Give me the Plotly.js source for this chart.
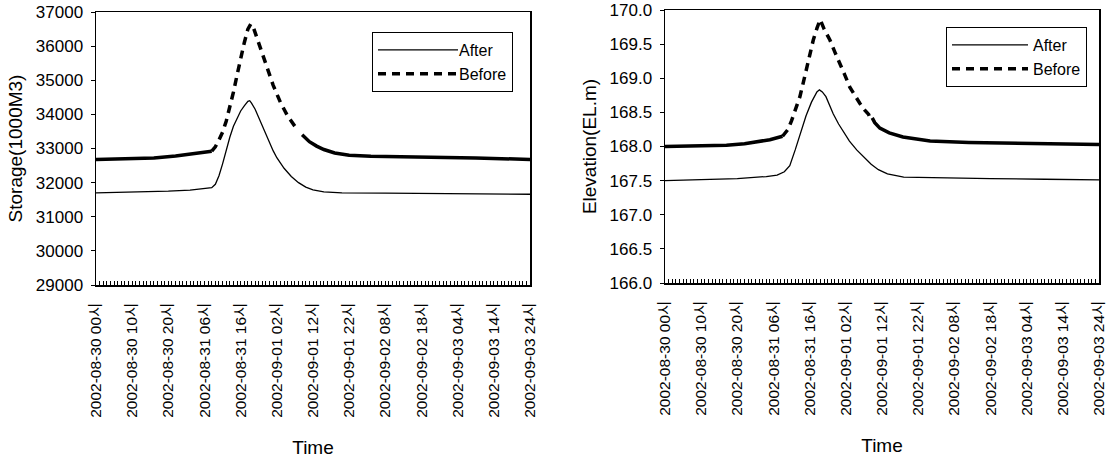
<!DOCTYPE html>
<html><head><meta charset="utf-8">
<script src="https://cdn.plot.ly/plotly-3.0.1.min.js"></script>
<style>body{margin:0;background:#fff}#chart{width:1114px;height:460px}</style>
</head><body><div id="chart"></div>
<script>
// Tick positions (hours since 2002-08-30 00시) and labels
const tickHours = [0, 10, 20, 30, 40, 50, 60, 70, 80, 90, 100, 110, 120];
const tickLabels = ["2002-08-30 00시", "2002-08-30 10시", "2002-08-30 20시", "2002-08-31 06시",
  "2002-08-31 16시", "2002-09-01 02시", "2002-09-01 12시", "2002-09-01 22시", "2002-09-02 08시",
  "2002-09-02 18시", "2002-09-03 04시", "2002-09-03 14시", "2002-09-03 24시"];

// Storage (1000 m3)
const storageAfterHours = [0, 10, 20, 26, 30, 32, 33, 34, 35, 36, 37, 38, 39, 40, 41, 42, 42.5, 43, 44, 45, 46, 47, 48, 49, 50, 52, 54, 56, 58, 60, 63, 68, 80, 95, 110, 120];
const storageAfter = [31700, 31720, 31750, 31780, 31820, 31850, 31950, 32200, 32550, 32950, 33330, 33650, 33900, 34100, 34250, 34380, 34400, 34330, 34150, 33900, 33650, 33400, 33150, 32930, 32730, 32420, 32180, 32000, 31870, 31790, 31730, 31700, 31690, 31680, 31670, 31660];
const storageBeforeHours = [0, 8, 16, 22, 26, 30, 32, 33, 34, 35, 36, 37, 38, 39, 40, 41, 42, 42.8, 43.5, 45, 47, 49, 51, 53, 55, 57, 59, 61, 63, 66, 70, 76, 85, 95, 105, 120];
const storageBefore = [32680, 32700, 32720, 32780, 32830, 32880, 32920, 33050, 33250, 33480, 33800, 34200, 34650, 35150, 35650, 36100, 36500, 36650, 36550, 36100, 35450, 34850, 34350, 33950, 33650, 33400, 33200, 33070, 32970, 32870, 32800, 32770, 32760, 32740, 32720, 32680];

// Elevation (EL.m)
const elevAfterHours = [0, 10, 20, 28, 31, 33, 34.5, 36, 37.5, 39, 40.5, 42, 42.7, 43.5, 44.5, 45.5, 46.5, 48, 49.5, 51, 53, 55, 57, 59, 61.5, 66, 75, 90, 105, 120];
const elevAfter = [167.50, 167.51, 167.53, 167.56, 167.58, 167.63, 167.72, 167.95, 168.20, 168.45, 168.65, 168.80, 168.83, 168.80, 168.73, 168.60, 168.48, 168.33, 168.20, 168.08, 167.95, 167.84, 167.74, 167.66, 167.60, 167.55, 167.54, 167.53, 167.52, 167.51];
const elevBeforeHours = [0, 10, 17, 22, 26, 29, 32.5, 34, 35, 36, 37.3, 38.3, 39.2, 40.1, 41, 42, 42.9, 44, 45.6, 47, 48.4, 49.7, 51.1, 52.5, 53.9, 55.3, 56.3, 56.8, 57.3, 58, 59.4, 62, 65.8, 70, 73.3, 84, 95, 105, 120];
const elevBefore = [168.00, 168.01, 168.02, 168.04, 168.07, 168.10, 168.15, 168.25, 168.38, 168.53, 168.73, 168.95, 169.17, 169.37, 169.56, 169.73, 169.86, 169.72, 169.56, 169.38, 169.22, 169.05, 168.87, 168.74, 168.63, 168.53, 168.47, 168.40, 168.42, 168.35, 168.27, 168.20, 168.14, 168.10, 168.08, 168.06, 168.05, 168.04, 168.03];

const FONT = "Liberation Sans, Arial, Noto Sans CJK KR, sans-serif";
const W = 1114, H = 460;

function seg(hours, vals, from, to) {
  const x = [], y = [];
  hours.forEach((h, i) => { if (h >= from && h <= to) { x.push(h); y.push(vals[i]); } });
  return {x, y};
}

function makeTraces(ah, av, bh, bv, dFrom, dTo, xa, ya, lg) {
  const pre = seg(bh, bv, -1, dFrom), mid = seg(bh, bv, dFrom, dTo), post = seg(bh, bv, dTo, 999);
  const thick = {color: "#000", width: 3.5};
  return [
    {x: ah, y: av, name: "After", type: "scatter", mode: "lines", xaxis: xa, yaxis: ya, legend: lg,
     line: {color: "#000", width: 1.3}},
    {x: mid.x, y: mid.y, name: "Before", type: "scatter", mode: "lines", xaxis: xa, yaxis: ya, legend: lg,
     line: Object.assign({dash: "8px,6px"}, thick)},
    {x: pre.x, y: pre.y, name: "Before", showlegend: false, type: "scatter", mode: "lines", xaxis: xa, yaxis: ya, legend: lg, line: thick},
    {x: post.x, y: post.y, name: "Before", showlegend: false, type: "scatter", mode: "lines", xaxis: xa, yaxis: ya, legend: lg, line: thick}
  ];
}

const traces = [].concat(
  makeTraces(storageAfterHours, storageAfter, storageBeforeHours, storageBefore, 32, 56, "x", "y", "legend"),
  makeTraces(elevAfterHours, elevAfter, elevBeforeHours, elevBefore, 32.5, 57, "x2", "y2", "legend2")
);

function xax(dom, anchor) {
  return {domain: dom, anchor: anchor, range: [0, 120], tickmode: "array", tickvals: tickHours, ticktext: tickLabels,
    tickangle: -90, ticks: "inside", ticklen: 4, tickcolor: "#000", showline: true, mirror: true,
    linecolor: "#000", linewidth: 1.5, showgrid: false, zeroline: false, automargin: false,
    ticklabelstandoff: 10,
    tickfont: {family: FONT, size: 15.5, color: "#000"},
    minor: {ticks: "inside", ticklen: 4, tickcolor: "#000", tickmode: "linear", tick0: 0, dtick: 1, showgrid: false},
    title: {text: "Time", standoff: 24, font: {family: FONT, size: 19, color: "#000"}}};
}
function yax(dom, anchor, range, dtick, fmt, title) {
  return {domain: dom, anchor: anchor, range: range, dtick: dtick, tick0: range[0], tickformat: fmt,
    ticks: "outside", ticklen: 4, tickcolor: "#000", showline: true, mirror: true,
    linecolor: "#000", linewidth: 1.5, showgrid: false, zeroline: false, automargin: false,
    ticklabelstandoff: 4,
    tickfont: {family: FONT, size: 17, color: "#000"},
    title: {text: title, standoff: 8, font: {family: FONT, size: 19, color: "#000"}}};
}

const legendBase = {bordercolor: "#000", borderwidth: 1, bgcolor: "#fff", xanchor: "right", yanchor: "top",
  font: {family: FONT, size: 16, color: "#000"}, traceorder: "normal", tracegroupgap: 0, itemwidth: 76};

const layout = {
  width: W, height: H, margin: {l: 0, r: 0, t: 0, b: 0}, paper_bgcolor: "#fff", plot_bgcolor: "#fff",
  font: {family: FONT, color: "#000"},
  xaxis: xax([96 / W, 530 / W], "y"),
  yaxis: yax([(H - 285) / H, (H - 12) / H], "x", [29000, 37000], 1000, "d", "Storage(1000M3)"),
  xaxis2: xax([665 / W, 1099 / W], "y2"),
  yaxis2: yax([(H - 283) / H, (H - 10) / H], "x2", [166, 170], 0.5, ".1f", "Elevation(EL.m)"),
  legend: Object.assign({x: 513 / W, y: (H - 32) / H}, legendBase),
  legend2: Object.assign({x: 1087 / W, y: (H - 27) / H}, legendBase),
  showlegend: true
};

Plotly.newPlot("chart", traces, layout, {staticPlot: true, displayModeBar: false}).then(function (gd) {
  // Excel-style legend samples: the line sample runs right up to the text
  gd.querySelectorAll(".legend .legendlines path").forEach(function (p) {
    p.setAttribute("d", "M5,0h80");
  });
});
</script>
</body></html>
